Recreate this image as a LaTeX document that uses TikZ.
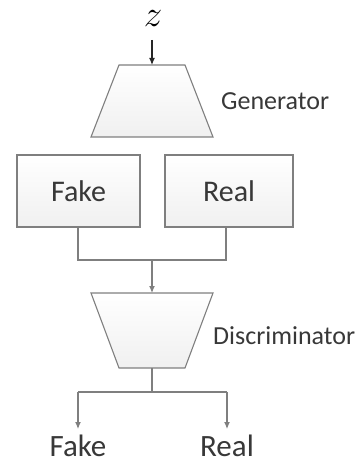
\RequirePackage{fix-cm}
\documentclass[tikz,border=0pt]{standalone}
\usepackage{fontspec}
\setmainfont{Carlito}
\usetikzlibrary{arrows.meta}
\definecolor{txt}{HTML}{383838}
\definecolor{edge}{HTML}{7F7F7F}
\definecolor{fillc}{HTML}{F0F0F0}
\begin{document}
\begin{tikzpicture}[x=1pt,y=-1pt,
  shapeline/.style={draw=edge, line width=1.1pt, top color=white, bottom color=fillc},
  conn/.style={draw=edge, line width=1.1pt},
  arr/.style={conn, -{Latex[length=7pt,width=6pt]}},
  boxlabel/.style={text=txt, font=\fontsize{30}{34}\selectfont},
  outlabel/.style={text=txt, font=\fontsize{31}{34}\selectfont, inner sep=0pt},
  sidelabel/.style={text=txt, font=\fontsize{26}{30}\selectfont, anchor=west, inner sep=0pt},
]
\useasboundingbox (0,0) rectangle (362,465);
% Generator
\coordinate (gtop) at (152,65);
\coordinate (gbot) at (152,137);
\path[shapeline] (119,65) -- (185,65) -- (213,137) -- (91,137) -- cycle;
\node[sidelabel] (glab) at (221,101) {Generator};
% z input
\node[text=black, font=\fontsize{37}{40}\selectfont, inner sep=0pt, anchor=base] (z) at (153,27) {$z$};
\coordinate (zs) at (152,40);
\draw[arr, draw=black!85] (zs) -- (gtop);
% boxes
\node[shapeline, minimum width=123pt, minimum height=72pt, inner sep=0pt, boxlabel] (fake) at (78.5,191) {Fake};
\node[shapeline, minimum width=128pt, minimum height=72pt, inner sep=0pt, boxlabel] (real) at (229,191) {Real};
% merge
\coordinate (fj) at (78,260);
\coordinate (rj) at (226,260);
\coordinate (mj) at (152,260);
\coordinate (dtop) at (152,293);
\draw[conn] (fake.south -| fj) -- (fj) -- (rj) -- (real.south -| rj);
\draw[arr] (mj) -- (dtop);
% Discriminator
\path[shapeline] (91,293) -- (213,293) -- (185,368) -- (119,368) -- cycle;
\coordinate (dbot) at (152,368);
\node[sidelabel] (dlab) at (213,336) {Discriminator};
% outputs
\coordinate (sj) at (152,392);
\coordinate (lj) at (78,392);
\coordinate (rrj) at (227,392);
\node[outlabel] (ofake) at (78,446) {Fake};
\node[outlabel] (oreal) at (227,446) {Real};
\draw[conn] (dbot) -- (sj);
\draw[conn] (lj) -- (rrj);
\draw[arr] (lj) -- (78,429);
\draw[arr] (rrj) -- (227,429);
\end{tikzpicture}
\end{document}
